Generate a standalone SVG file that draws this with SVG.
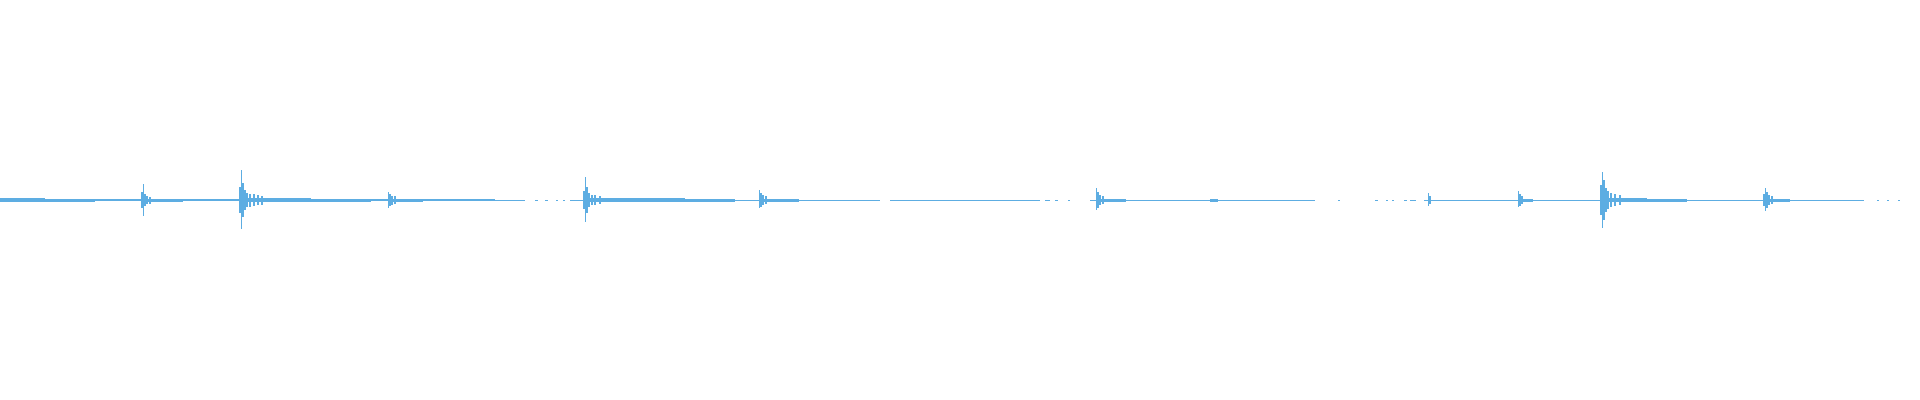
<svg xmlns="http://www.w3.org/2000/svg" width="1920" height="400" viewBox="0 0 1920 400" shape-rendering="crispEdges">
<style>.w{stroke:#5dade2;stroke-width:1.5;fill:none}.f{fill:#5dade2}</style>
<rect width="1920" height="400" fill="#fff"/>
<g id="baseline" class="f">
<rect x="0" y="198" width="45" height="4"/><rect x="45" y="198.5" width="50" height="3"/><rect x="95" y="199" width="400" height="2"/>
<rect x="495" y="199.5" width="30" height="1"/><rect x="535" y="199.5" width="3" height="1"/><rect x="545" y="199.5" width="3" height="1"/><rect x="556" y="199.5" width="2" height="1"/><rect x="563" y="199.5" width="2" height="1"/>
<rect x="570" y="199.5" width="310" height="1"/><rect x="890" y="199.5" width="150" height="1"/><rect x="1045" y="199.5" width="5" height="1"/><rect x="1055" y="199.5" width="3" height="1"/><rect x="1068" y="199.5" width="2" height="1"/>
<rect x="1090" y="199.5" width="225" height="1"/><rect x="1338" y="199.5" width="2" height="1"/><rect x="1375" y="199.5" width="3" height="1"/><rect x="1386" y="199.5" width="2" height="1"/><rect x="1392" y="199.5" width="2" height="1"/><rect x="1404" y="199.5" width="3" height="1"/><rect x="1410" y="199.5" width="6" height="1"/>
<rect x="1424" y="199.5" width="440" height="1"/><rect x="1877" y="199.5" width="2" height="1"/><rect x="1887" y="199.5" width="2" height="1"/><rect x="1898" y="199.5" width="2" height="1"/>
</g>
<g id="events" class="f">
<rect x="143" y="198.5" width="40" height="3"/><rect x="241" y="198" width="70" height="4"/><rect x="311" y="198.5" width="60" height="3"/><rect x="388" y="198.5" width="35" height="3"/>
<rect x="585" y="198" width="100" height="4"/><rect x="685" y="198.5" width="50" height="3"/><rect x="759" y="198.5" width="40" height="3"/><rect x="1096" y="198.5" width="30" height="3"/><rect x="1210" y="198.5" width="8" height="3"/>
<rect x="1518" y="198.5" width="15" height="3"/><rect x="1602" y="198" width="45" height="4"/><rect x="1647" y="198.5" width="40" height="3"/><rect x="1765" y="198.5" width="25" height="3"/>
</g>
<g id="spikes" class="w">
<path d="M143.5 184V216M142 192V208M145 194V206M147 196V204M150 196.5V203.5"/>
<path d="M241.5 170V229M240 187V213M243 183V217M245 190V210M247 193V207M250 193.5V206.5M254 194V206M258 195V205M262 195.5V204.5"/>
<path d="M388.5 192V208M390 194V206M392 195.5V204.5M395 196V204"/>
<path d="M585.5 177V222M584 191V209M587 187V213M589 193V207M592 195V205M595 195V205M600 196V204"/>
<path d="M759.5 190V208M761 193V207M763 195V205M766 196V204"/>
<path d="M1096.5 188V210M1098 192V208M1100 195V205M1103 196V204"/>
<path d="M1428.5 193V206M1430 196V204"/>
<path d="M1518.5 191V207M1520 194V206M1522 196V204"/>
<path d="M1602.5 172V228M1601 185V215M1604 180V220M1606 188V212M1608 191V209M1611 193V207M1615 194V206M1620 195V205"/>
<path d="M1765.5 188V211M1764 194V206M1767 192V208M1769 195V205M1772 196V204"/>
</g>
</svg>
